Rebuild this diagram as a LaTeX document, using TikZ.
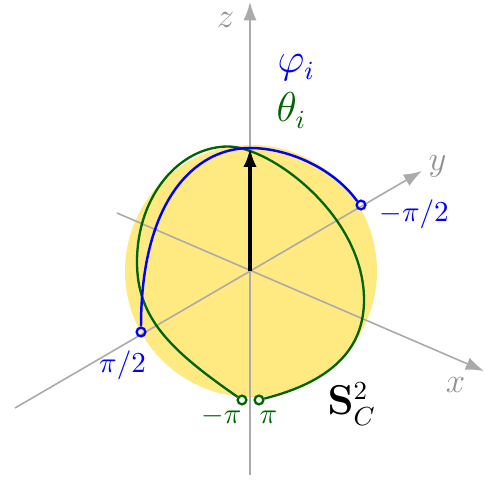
\documentclass[tikz,border=0pt]{standalone}
\usetikzlibrary{arrows.meta}
\definecolor{sphere}{RGB}{255,234,130}
\definecolor{dgreen}{RGB}{0,100,0}
\definecolor{axisgray}{RGB}{170,170,170}
\definecolor{labelgray}{RGB}{145,145,145}
\begin{document}
\begin{tikzpicture}[x=0.345pt,y=-0.345pt,
  axis/.style={draw=axisgray, line width=0.55pt, -{Latex[length=6.3pt,width=4.5pt]}},
  axlabel/.style={text=labelgray, font=\fontsize{11.5}{13}\selectfont, anchor=base, inner sep=0pt},
  ticklabel/.style={font=\normalsize, anchor=base, inner sep=0pt},
  biglabel/.style={font=\fontsize{13.5}{16}\selectfont, anchor=base west, inner sep=0pt},
  endpt/.style={circle, draw, line width=0.8pt, inner sep=0pt, minimum size=3pt},
  curveblue/.style={blue, line width=0.85pt},
  curvegreen/.style={dgreen, line width=0.8pt},
  vec/.style={line width=1.6pt, -{Latex[length=6.5pt,width=4.6pt]}}
]
\useasboundingbox (0,0) rectangle (485,480);
% sphere
\fill[sphere] (251,271) circle[radius=43.47pt];
% axes
\coordinate (O) at (250,271);
\coordinate (zb) at (250,475);
\coordinate (zt) at (250,2);
\coordinate (xa) at (117,213);
\coordinate (xt) at (484,371);
\coordinate (ya) at (15,408);
\coordinate (yt) at (422,171);
\draw[axis] (zb) -- (zt);
\draw[axis] (xa) -- (xt);
\draw[axis] (ya) -- (yt);
\node[axlabel] (lz) at (225.5,28) {$z$};
\node[axlabel] (ly) at (437.5,171) {$y$};
\node[axlabel] (lx) at (455.5,392) {$x$};
% end points
\coordinate (N) at (250,148);
\node[endpt, draw=dgreen] (mpi) at (242,400) {};
\node[endpt, draw=dgreen] (ppi) at (259,400) {};
\node[endpt, draw=blue] (bl) at (141,332) {};
\node[endpt, draw=blue] (br) at (361,205) {};
% theta curve
\draw[curvegreen] (mpi.145) .. controls (170,350) and (137,318) .. (137,262)
  .. controls (137,195) and (180,146.5) .. (228,146.5)
  .. controls (270,146.5) and (364,215) .. (364,300)
  .. controls (364,350) and (330,382) .. (ppi.15);
% phi curve
\draw[curveblue] (bl.north) .. controls (141,200) and (195,148) .. (N)
  .. controls (290,148) and (335,170) .. (br.135);
% vector
\draw[vec] (O) -- (N);
% labels
\node[ticklabel, text=blue] (t1) at (122.5,372) {$\pi/2$};
\node[ticklabel, text=blue] (t2) at (414,222) {$-\pi/2$};
\node[ticklabel, text=dgreen] (t3) at (221.5,423) {$-\pi$};
\node[ticklabel, text=dgreen] (t4) at (268.5,423) {$\pi$};
\node[biglabel, text=blue] (phi) at (277,73) {$\varphi_i$};
\node[biglabel, text=dgreen] (theta) at (276,122) {$\theta_i$};
\node[biglabel] (S) at (327,415) {$\mathbf{S}^2_C$};
\end{tikzpicture}
\end{document}
